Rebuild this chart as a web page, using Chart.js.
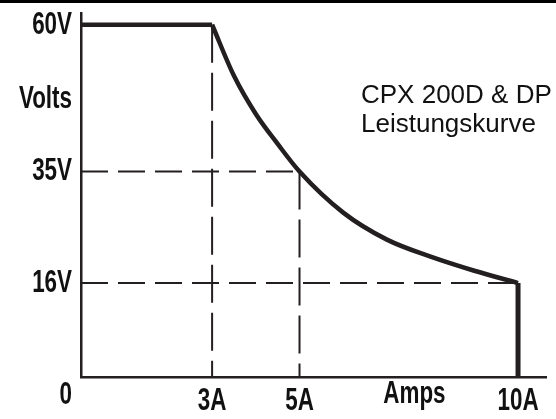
<!DOCTYPE html>
<html>
<head>
<meta charset="utf-8">
<script src="https://cdn.jsdelivr.net/npm/chart.js@4.4.1/dist/chart.umd.min.js"></script>
<style>
  html, body { margin: 0; padding: 0; background: #fff; }
  #wrap { width: 556px; height: 419px; position: relative; }
</style>
</head>
<body>
<div id="wrap"><canvas id="powerChart" width="556" height="419"></canvas></div>
<script>
// werte
const ampTicks = [3, 5, 7.63, 10];
const ampTickLabels = ['3A', '5A', 'Amps', '10A'];
const voltTicks = [0, 16, 35, 47.3, 60];
const voltTickLabels = ['0', '16V', '35V', 'Volts', '60V'];

// konstantspannung 0..3A
const cvAmps = [0, 3];
const cvVolts = [60, 60];
// leistungskurve 3A..10A
const curveAmps = [3, 3.5, 4, 4.5, 5, 6, 7, 8, 9, 10];
const curveVolts = [60, 51.3, 44.8, 39.7, 35, 28, 23.4, 20.5, 18.1, 16];
// strombegrenzung bei 10A
const limitAmps = [10, 10];
const limitVolts = [16, 0];

// gestrichelte hilfslinien
const guide3A = { amps: [3, 3], volts: [60, 0] };
const guide5A = { amps: [5, 5], volts: [35, 0] };
const guide35V = { amps: [0, 5], volts: [35, 35] };
const guide16V = { amps: [0, 10], volts: [16, 16] };

const titleLines = ['CPX 200D & DP', 'Leistungskurve'];

const ink = '#231f20';
const labelFont = 'bold 32px "Liberation Sans", Arial, sans-serif';
const squeeze = 0.7; // schmale schrift nachbilden

function pts(xs, ys) {
  return xs.map((x, i) => ({ x: x, y: ys[i] }));
}

function solid(xs, ys, extra) {
  return Object.assign({
    data: pts(xs, ys),
    borderColor: ink,
    borderWidth: 4.5,
    pointRadius: 0,
    fill: false,
    borderCapStyle: 'butt',
    borderJoinStyle: 'miter'
  }, extra || {});
}

function dashed(g, dash) {
  return {
    data: pts(g.amps, g.volts),
    borderColor: ink,
    borderWidth: 2,
    borderDash: dash,
    pointRadius: 0,
    fill: false
  };
}

function narrowText(ctx, text, x, y, align) {
  ctx.save();
  ctx.translate(x, y);
  ctx.scale(squeeze, 1);
  ctx.textAlign = align;
  ctx.textBaseline = 'middle';
  ctx.fillText(text, 0, 0);
  ctx.restore();
}

// oberer rand, achsenbeschriftung, titel
const decoPlugin = {
  id: 'deco',
  beforeDraw(chart) {
    const ctx = chart.ctx;
    ctx.save();
    ctx.fillStyle = '#000';
    ctx.fillRect(0, 0, chart.width, 3);
    ctx.restore();
  },
  afterDraw(chart) {
    const ctx = chart.ctx;
    const xs = chart.scales.x;
    const ys = chart.scales.y;
    ctx.save();
    ctx.fillStyle = '#111';
    ctx.font = labelFont;
    voltTicks.forEach((v, i) => {
      let y = ys.getPixelForValue(v);
      if (v === 0) y += 18; // die 0 sitzt unter der achse
      narrowText(ctx, voltTickLabels[i], ys.right - 9, y, 'right');
    });
    ampTicks.forEach((v, i) => {
      const y = ampTickLabels[i] === 'Amps' ? xs.top + 17 : xs.top + 24;
      narrowText(ctx, ampTickLabels[i], xs.getPixelForValue(v), y, 'center');
    });
    ctx.font = '26px "Liberation Sans", Arial, sans-serif';
    ctx.textBaseline = 'alphabetic';
    ctx.fillText(titleLines[0], 361, 103);
    ctx.fillText(titleLines[1], 361, 132);
    ctx.restore();
  }
};

new Chart(document.getElementById('powerChart'), {
  type: 'line',
  data: {
    datasets: [
      dashed(guide3A, [38, 10]),
      dashed(guide5A, [38, 10]),
      dashed(guide35V, [27, 10]),
      dashed(guide16V, [27, 10]),
      solid(cvAmps, cvVolts),
      solid(curveAmps, curveVolts, { cubicInterpolationMode: 'monotone' }),
      solid(limitAmps, limitVolts, { borderWidth: 5 })
    ]
  },
  options: {
    responsive: false,
    animation: false,
    layout: { padding: { left: 0, right: 10, top: 13, bottom: 0 } },
    plugins: {
      legend: { display: false },
      tooltip: { enabled: false },
      title: { display: false }
    },
    scales: {
      x: {
        type: 'linear',
        min: 0,
        max: 10.64,
        grid: { display: false, drawTicks: false },
        border: { display: true, color: ink, width: 2.5 },
        afterFit(scale) { scale.height = 42; },
        afterBuildTicks(scale) { scale.ticks = ampTicks.map(v => ({ value: v })); },
        ticks: { display: false }
      },
      y: {
        type: 'linear',
        min: 0,
        max: 62,
        grid: { display: false, drawTicks: false },
        border: { display: true, color: ink, width: 2.5 },
        afterFit(scale) { scale.width = 81; },
        afterBuildTicks(scale) { scale.ticks = voltTicks.map(v => ({ value: v })); },
        ticks: { display: false }
      }
    }
  },
  plugins: [decoPlugin]
});
</script>
</body>
</html>
